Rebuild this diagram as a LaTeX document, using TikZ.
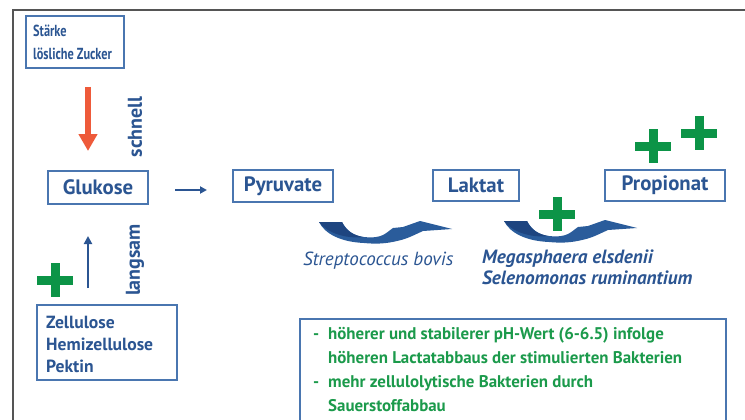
\documentclass[tikz,border=0pt]{standalone}
\usepackage{fontspec}
\setmainfont{PT Sans}
\newfontfamily\narrowfont[FakeStretch=0.77]{PT Sans}
\usetikzlibrary{arrows.meta}
\definecolor{tblue}{HTML}{2B5592}
\definecolor{bblue}{HTML}{4A76B0}
\definecolor{ablue}{HTML}{2A5C9B}
\definecolor{dblue}{HTML}{1E4580}
\definecolor{pgreen}{HTML}{0C9447}
\definecolor{tgreen}{HTML}{1B9A4B}
\definecolor{ared}{HTML}{EE5A3A}
\definecolor{framec}{HTML}{555555}
\tikzset{
  bigbox/.style={draw=bblue, line width=1.3pt, text=tblue, font=\bfseries\fontsize{20.8}{24}\selectfont, inner sep=0pt},
  listbox/.style={draw=bblue, line width=1.3pt, inner sep=0pt},
  listtext/.style={text=tblue, anchor=base west, inner sep=0pt},
  gtext/.style={text=tgreen, anchor=base west, inner sep=0pt, font=\bfseries\fontsize{16.9}{20}\selectfont},
  spec/.style={text=tblue, anchor=base west, inner sep=0pt},
  vlabel/.style={text=tblue, rotate=90, inner sep=0pt, font=\bfseries\fontsize{20}{24}\selectfont},
  plussign/.pic={
    \fill[pgreen] (-18,-4.5) rectangle (18,4.5);
    \fill[pgreen] (-4.5,-17) rectangle (4.5,17);
  },
  swoosh/.pic={
    \fill[ablue] (0,0) -- (23,0) .. controls (28,9) and (35,14) .. (45,15)
      .. controls (54,16) and (60,15) .. (64,13) .. controls (68,11) and (71,8) .. (74,6)
      -- (84,5) -- (101,-1) -- (133,7) -- (104,9)
      .. controls (95,13) and (88,17) .. (78,19) .. controls (66,22) and (55,22) .. (45,21)
      .. controls (22,20) and (6,12) .. (0,0) -- cycle;
    \fill[dblue] (0,0) -- (23,0) .. controls (27,9) and (34,13) .. (44,15)
      .. controls (27,17) and (8,11) .. (0,0) -- cycle;
  }
}
\begin{document}
\begin{tikzpicture}[x=1pt,y=-1pt]
\useasboundingbox (0,0) rectangle (745,420);
\clip (0,0) rectangle (745,420);
\fill[white] (0,0) rectangle (745,420);
% frame
\draw[framec, line width=2pt] (13,430) -- (13,10) -- (750,10);

% top-left box
\node[listbox, minimum width=98pt, minimum height=52pt] (staerke) at (75,42) {};
\node[listtext, font=\narrowfont\bfseries\fontsize{16}{18}\selectfont] (st1) at (33,36.5) {Stärke};
\node[listtext, font=\narrowfont\bfseries\fontsize{16}{18}\selectfont] (st2) at (33,59.5) {lösliche Zucker};

% bottom-left box
\node[listbox, minimum width=140pt, minimum height=75pt] (zell) at (107,342.5) {};
\node[listtext, font=\bfseries\fontsize{17.6}{20}\selectfont] (z1) at (46,328) {Zellulose};
\node[listtext, font=\bfseries\fontsize{17.6}{20}\selectfont] (z2) at (46,350) {Hemizellulose};
\node[listtext, font=\bfseries\fontsize{17.6}{20}\selectfont] (z3) at (46,372) {Pektin};

% main chain
\node[bigbox, minimum width=100pt, minimum height=33pt] (glu) at (98,187.5) {Glukose};
\node[bigbox, minimum width=100pt, minimum height=32pt] (pyr) at (283,186) {Pyruvate};
\node[bigbox, minimum width=86pt, minimum height=31pt] (lak) at (476,185.5) {Laktat};
\node[bigbox, minimum width=120pt, minimum height=31pt] (pro) at (665,185.5) {Propionat};

\coordinate (g1) at (175,190);
\coordinate (g2) at (207,190);
\draw[tblue, line width=1.8pt, -{Triangle[width=7pt,length=7pt]}] (g1) -- (g2);

% red arrow
\coordinate (r1) at (88,87);
\coordinate (r2) at (88,151);
\draw[ared, line width=6pt, -{Triangle[width=18pt,length=17pt]}] (r1) -- (r2);
\node[vlabel] (schnell) at (135,127) {schnell};

% blue up arrow
\coordinate (b1) at (88,288);
\coordinate (b2) at (88,236);
\draw[tblue, line width=2pt, -{Triangle[width=8pt,length=8pt]}] (b1) -- (b2);
\node[vlabel] (langsam) at (135,260) {langsam};

% plus signs
\pic at (55,280) {plussign};
\pic at (557,214) {plussign};
\pic at (653,146) {plussign};
\pic at (699,133) {plussign};

% swoosh arrows
\pic at (319,222) {swoosh};
\pic at (504,221) {swoosh};

\node[spec, font=\itshape\fontsize{19}{22}\selectfont] (strep) at (303,265) {Streptococcus bovis};
\node[spec, font=\bfseries\itshape\fontsize{19.2}{22}\selectfont] (mega) at (482,263) {Megasphaera elsdenii};
\node[spec, font=\bfseries\itshape\fontsize{19.2}{22}\selectfont] (sele) at (482,284) {Selenomonas ruminantium};

% green box
\draw[bblue, line width=1.3pt] (300,319) rectangle (726,440);
\node[gtext] (d1) at (313,339) {-};
\node[gtext] (l1) at (328,339) {höherer und stabilerer pH-Wert (6-6.5) infolge};
\node[gtext] (l2) at (328,363) {höheren Lactatabbaus der stimulierten Bakterien};
\node[gtext] (d2) at (313,387) {-};
\node[gtext] (l3) at (328,387) {mehr zellulolytische Bakterien durch};
\node[gtext] (l4) at (328,411) {Sauerstoffabbau};
\end{tikzpicture}
\end{document}
